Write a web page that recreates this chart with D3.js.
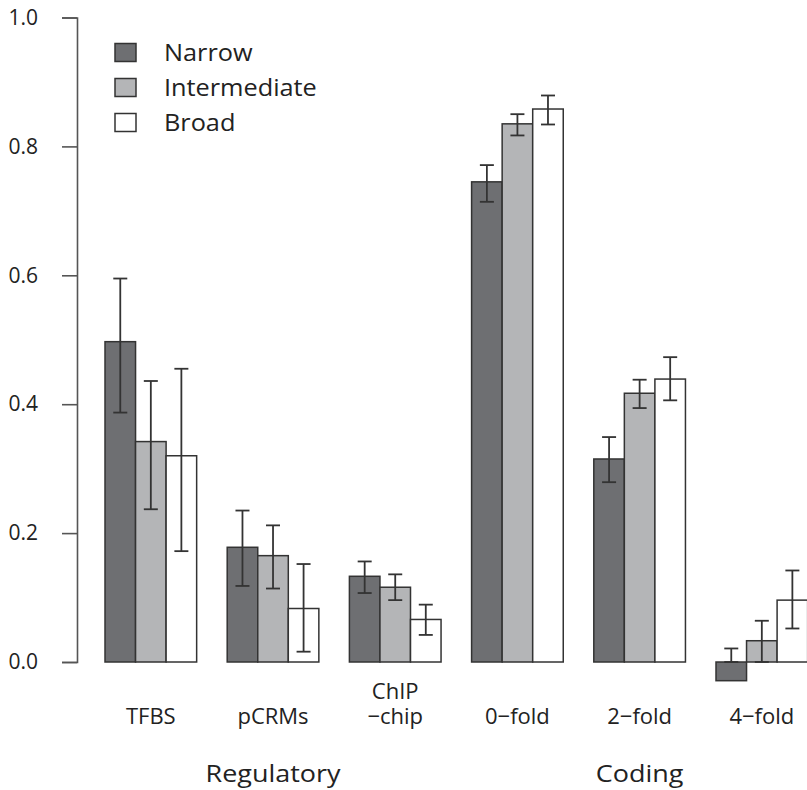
<!DOCTYPE html>
<html>
<head>
<meta charset="utf-8">
<script src="https://cdn.jsdelivr.net/npm/d3@7"></script>
<style>
  html, body { margin: 0; padding: 0; background: #fff; }
  svg { display: block; }
  text { font-family: "Open Sans", "Noto Sans", sans-serif; fill: #222; }
</style>
</head>
<body>
<svg id="chart" width="807" height="790"></svg>
<script>
// Site classes along the x axis (ChIP-chip is split over two lines)
const categories = ["TFBS", "pCRMs", "ChIP\n\u2212chip", "0\u2212fold", "2\u2212fold", "4\u2212fold"];
const series = ["Narrow", "Intermediate", "Broad"];

// Bar heights and error-bar limits per series
const narrow         = [0.497, 0.178, 0.133, 0.745, 0.315, -0.029];
const narrowLo       = [0.387, 0.118, 0.107, 0.714, 0.279,  0.000];
const narrowHi       = [0.595, 0.235, 0.156, 0.771, 0.349,  0.021];
const intermediate   = [0.342, 0.165, 0.116, 0.835, 0.417,  0.033];
const intermediateLo = [0.237, 0.114, 0.096, 0.817, 0.394,  0.000];
const intermediateHi = [0.436, 0.212, 0.136, 0.850, 0.438,  0.064];
const broad          = [0.320, 0.083, 0.066, 0.858, 0.439,  0.096];
const broadLo        = [0.172, 0.016, 0.042, 0.834, 0.406,  0.052];
const broadHi        = [0.455, 0.152, 0.089, 0.879, 0.473,  0.142];

const yTicks = [0.0, 0.2, 0.4, 0.6, 0.8, 1.0];

// Group titles under the axis, centred on the middle category of each block
const groupTitles = ["Regulatory", "Coding"];
const groupCentres = ["pCRMs", "2\u2212fold"];

const fills = { "Narrow": "#6e6f72", "Intermediate": "#b4b5b7", "Broad": "#ffffff" };
const ink = "#333";

const values = { "Narrow": narrow, "Intermediate": intermediate, "Broad": broad };
const lows   = { "Narrow": narrowLo, "Intermediate": intermediateLo, "Broad": broadLo };
const highs  = { "Narrow": narrowHi, "Intermediate": intermediateHi, "Broad": broadHi };

const rows = [];
categories.forEach((c, i) => {
  series.forEach(s => {
    rows.push({ cat: c, ser: s, v: values[s][i], lo: lows[s][i], hi: highs[s][i] });
  });
});

const svg = d3.select("#chart");

const barW = 30.55;
const x0 = 105;
const x = d3.scaleBand()
  .domain(categories)
  .range([x0, x0 + categories.length * 4 * barW - barW])
  .paddingInner(0.25)
  .paddingOuter(0);
const xs = d3.scaleBand().domain(series).range([0, x.bandwidth()]);

const y = d3.scaleLinear().domain([0, 1]).range([662, 17.5]);

// Y axis
const yAxis = svg.append("g")
  .attr("transform", "translate(77,0)")
  .call(d3.axisLeft(y).tickValues(yTicks).tickSize(15).tickPadding(24)
        .tickFormat(d3.format(".1f")));
yAxis.selectAll("path, line").attr("stroke", "#555").attr("stroke-width", 1.6);
yAxis.selectAll("text").attr("font-size", 21).attr("fill", "#222")
  .style("font-family", "'Open Sans', sans-serif");

// Bars
svg.append("g").selectAll("rect").data(rows).join("rect")
  .attr("x", d => x(d.cat) + xs(d.ser))
  .attr("width", xs.bandwidth())
  .attr("y", d => y(Math.max(0, d.v)))
  .attr("height", d => Math.abs(y(d.v) - y(0)))
  .attr("fill", d => fills[d.ser])
  .attr("stroke", ink)
  .attr("stroke-width", 1.5);

// Error bars
const cap = 7;
const eb = svg.append("g").attr("stroke", ink).attr("stroke-width", 1.8).attr("fill", "none");
rows.forEach(d => {
  const cx = x(d.cat) + xs(d.ser) + xs.bandwidth() / 2;
  eb.append("line").attr("x1", cx).attr("x2", cx).attr("y1", y(d.lo)).attr("y2", y(d.hi));
  eb.append("line").attr("x1", cx - cap).attr("x2", cx + cap).attr("y1", y(d.hi)).attr("y2", y(d.hi));
  eb.append("line").attr("x1", cx - cap).attr("x2", cx + cap).attr("y1", y(d.lo)).attr("y2", y(d.lo));
});

// Category labels
const lineGap = 25;
const catLabels = svg.append("g").selectAll("text").data(categories).join("text")
  .attr("x", d => x(d) + x.bandwidth() / 2)
  .attr("y", 724)
  .attr("text-anchor", "middle")
  .attr("font-size", 22);
catLabels.each(function(d) {
  const parts = d.split("\n");
  const t = d3.select(this);
  parts.forEach((p, k) => {
    t.append("tspan")
      .attr("x", x(d) + x.bandwidth() / 2)
      .attr("dy", k === 0 ? -(parts.length - 1) * lineGap : lineGap)
      .text(p);
  });
});

// Group titles (slightly widened lettering)
const wide = 1.1;
svg.append("g").selectAll("g").data(groupTitles).join("g")
  .attr("transform", (d, i) => `translate(${x(groupCentres[i]) + x.bandwidth() / 2},782) scale(${wide},1)`)
  .append("text")
  .attr("text-anchor", "middle")
  .attr("font-size", 24.5)
  .text(d => d);

// Legend
const legend = svg.append("g").selectAll("g").data(series).join("g")
  .attr("transform", (d, i) => `translate(115,${43.5 + i * 35})`);
legend.append("rect")
  .attr("width", 21).attr("height", 18)
  .attr("fill", d => fills[d]).attr("stroke", ink).attr("stroke-width", 1.5);
legend.append("g")
  .attr("transform", `translate(49,17.5) scale(${wide},1)`)
  .append("text")
  .attr("font-size", 23)
  .text(d => d);
</script>
</body>
</html>
